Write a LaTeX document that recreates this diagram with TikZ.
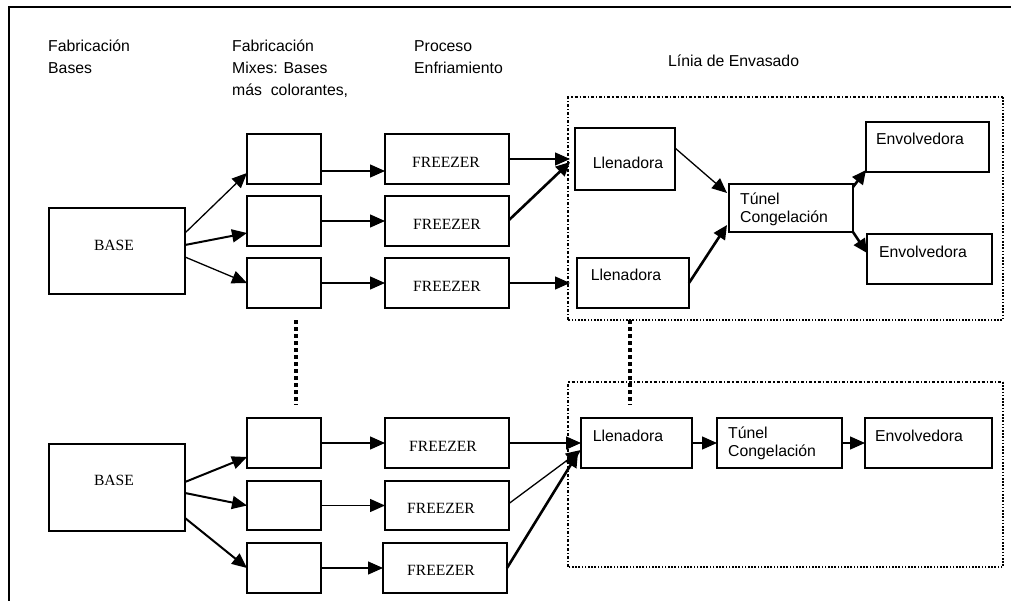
\documentclass[tikz,border=0pt]{standalone}
\usepackage{fontspec}
\setmainfont{Liberation Sans}
\newfontfamily\tmsfont{Liberation Serif}
\usetikzlibrary{arrows.meta}
\newcommand\mkbox[5]{\node[boxst, minimum width={(#4-#2)*1pt}, minimum height={(#5-#3)*1pt}] (#1) at ({(#2+#4)/2},{(#3+#5)/2}) {};}
\newcommand\mkarea[5]{\node[inner sep=0pt, outer sep=0pt, minimum width={(#4-#2)*1pt}, minimum height={(#5-#3)*1pt}] (#1) at ({(#2+#4)/2},{(#3+#5)/2}) {};}
\begin{document}
\begin{tikzpicture}[x=1pt,y=-1pt,
  boxst/.style={draw, line width=1.6pt, inner sep=0pt, outer sep=0pt},
  sans/.style={font=\fontsize{15.8}{22}\selectfont, inner sep=0pt, align=left},
  serif/.style={font=\tmsfont\fontsize{15.6}{18}\selectfont, inner sep=0pt},
  arr/.style={line width=1.3pt, -{Triangle[length=15pt,width=13pt]}},
  arrthick/.style={line width=2.6pt, -{Triangle[length=14pt,width=13pt]}},
  dashdotline/.style={line width=1.3pt, dash pattern=on 3pt off 2pt on 1.2pt off 2pt},
  dotline/.style={line width=2pt, dash pattern=on 1.6pt off 1.6pt},
  bigdots/.style={line width=4pt, dash pattern=on 4pt off 3pt},
  frame/.style={line width=1.8pt}]
\useasboundingbox (0,0) rectangle (1011,601);
% frame
\draw[frame] (9,601) -- (9,7) -- (1011,7);
% headers
\node[sans, anchor=north west] (h1) at (48,40) {Fabricación\\Bases};
\node[sans, anchor=north west] (h2) at (232,40) {Fabricación\\Mixes: Bases\\más\ \ colorantes,};
\node[sans, anchor=north west] (h3) at (414,40) {Proceso\\Enfriamiento};
\node[sans, anchor=north west] (h4) at (668,55) {Línia de Envasado};
% envasado areas
\mkarea{env1}{568}{97}{1003}{320}
\mkarea{env2}{568}{382}{1003}{567}
\draw[dashdotline] (env1.south west) -- (env1.north west) -- (env1.north east);
\draw[dotline] (env1.north east) -- (env1.south east) -- (env1.south west);
\draw[dashdotline] (env2.south west) -- (env2.north west) -- (env2.north east);
\draw[dotline] (env2.north east) -- (env2.south east) -- (env2.south west);
% upper group
\mkbox{base1}{49}{208}{185}{294}
\node[serif] (base1t) at (114,245) {BASE};
\mkbox{m1}{247}{134}{321}{184}
\mkbox{m2}{247}{196}{321}{246}
\mkbox{m3}{247}{258}{321}{308}
\mkbox{f1}{385}{134}{509}{184}
\mkbox{f2}{385}{196}{509}{246}
\mkbox{f3}{385}{258}{509}{308}
\node[serif] (f1t) at (446,162) {FREEZER};
\node[serif] (f2t) at (447,224) {FREEZER};
\node[serif] (f3t) at (447,286) {FREEZER};
\mkbox{L1}{575}{128}{675}{190}
\mkbox{L2}{577}{258}{689}{308}
\node[sans] (L1t) at (628,163) {Llenadora};
\node[sans] (L2t) at (626,275) {Llenadora};
\mkbox{T1}{729}{184}{853}{232}
\node[sans, anchor=west, font=\fontsize{15.8}{18}\selectfont] (T1t) at (740,209) {Túnel\\Congelación};
\mkbox{E1}{866}{122}{989}{172}
\mkbox{E2}{867}{234}{992}{284}
\node[sans] (E1t) at (920,139) {Envolvedora};
\node[sans] (E2t) at (923,252) {Envolvedora};
% upper arrows
\draw[arr] ([yshift=18pt]base1.east) -- ([yshift=-14pt]m1.west);
\draw[arr, line width=2pt] ([yshift=6pt]base1.east) -- ([yshift=-12pt]m2.west);
\draw[arr] ([yshift=-6pt]base1.east) -- (m3.west);
\draw[arr] ([yshift=-12pt]m1.east) -- ([yshift=-12pt]f1.west);
\draw[arr] (m2.east) -- (f2.west);
\draw[arr] (m3.east) -- (f3.west);
\draw[arr] (f1.east) -- ([xshift=-5pt]L1.west);
\draw[arrthick] ([yshift=1pt]f2.east) -- ([xshift=-5pt,yshift=-3pt]L1.west);
\draw[arr] (f3.east) -- ([xshift=-7pt]L2.west);
\draw[arr] ([yshift=11pt]L1.east) -- ([xshift=-2pt,yshift=15pt]T1.west);
\draw[arrthick] (L2.east) -- ([xshift=-2pt,yshift=-17pt]T1.west);
\draw[arrthick] ([yshift=21pt]T1.east) -- ([yshift=2pt]E1.south west);
\draw[arrthick] (T1.south east) -- ([yshift=6pt]E2.west);
% lower group
\mkbox{base2}{49}{444}{185}{531}
\node[serif] (base2t) at (114,480) {BASE};
\mkbox{m4}{247}{418}{321}{468}
\mkbox{m5}{247}{481}{321}{530}
\mkbox{m6}{247}{543}{321}{593}
\mkbox{f4}{385}{418}{509}{468}
\mkbox{f5}{385}{481}{509}{530}
\mkbox{f6}{383}{543}{507}{593}
\node[serif] (f4t) at (443,446) {FREEZER};
\node[serif] (f5t) at (441,508) {FREEZER};
\node[serif] (f6t) at (441,570) {FREEZER};
\mkbox{L3}{581}{418}{692}{468}
\node[sans] (L3t) at (628,436) {Llenadora};
\mkbox{T2}{717}{418}{842}{468}
\node[sans, anchor=west, font=\fontsize{15.8}{18}\selectfont] (T2t) at (728,443) {Túnel\\Congelación};
\mkbox{E3}{865}{418}{992}{468}
\node[sans] (E3t) at (919,436) {Envolvedora};
% lower arrows
\draw[arr, line width=2pt] ([yshift=5.5pt]base2.east) -- ([yshift=-14pt]m4.west);
\draw[arr, line width=2pt] ([yshift=-5.5pt]base2.east) -- (m5.west);
\draw[arr, line width=2pt] ([yshift=-30.5pt]base2.east) -- (m6.west);
\draw[arr] (m4.east) -- (f4.west);
\draw[arr] (m5.east) -- (f5.west);
\draw[arr] (m6.east) -- (f6.west);
\draw[arr] (f4.east) -- (L3.west);
\draw[arr] ([yshift=2pt]f5.east) -- ([yshift=-7pt]L3.west);
\draw[arrthick] (f6.east) -- ([xshift=-3pt,yshift=-10pt]L3.west);
\draw[arr] (L3.east) -- (T2.west);
\draw[arr] (T2.east) -- (E3.west);
% dotted continuations
\draw[bigdots] ([xshift=12pt,yshift=-12pt]m3.south) -- ([xshift=12pt,yshift=13pt]m4.north);
\draw[bigdots] ([xshift=-155.5pt]env1.south) -- ([xshift=-155.5pt,yshift=-23pt]env2.north);
\end{tikzpicture}
\end{document}
